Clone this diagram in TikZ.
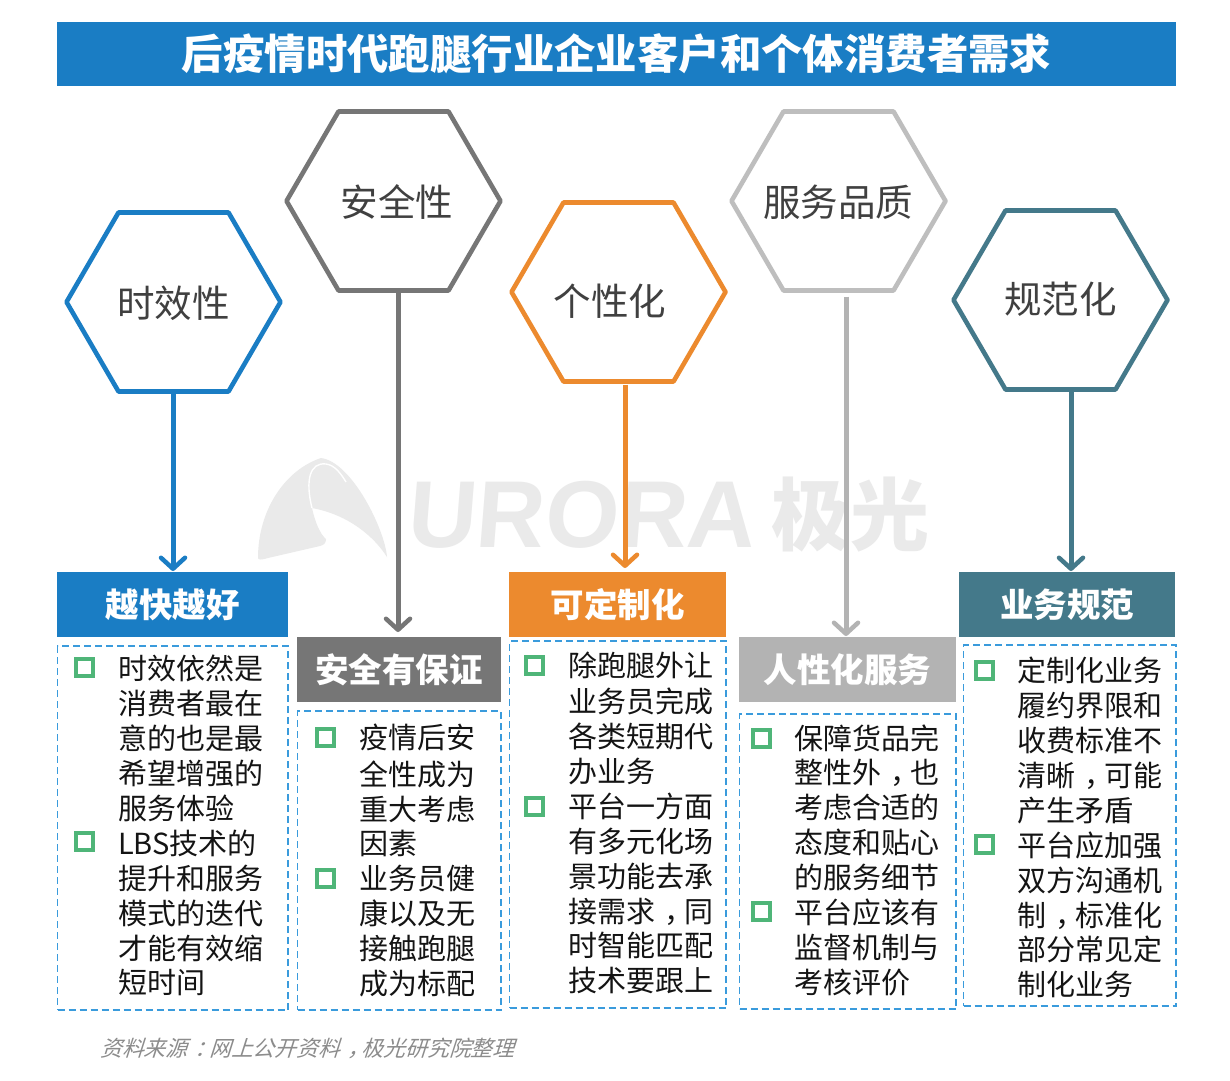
\documentclass[tikz,border=0pt]{standalone}
\usepackage{fontspec}
\setmainfont{Noto Sans CJK SC}
\newfontfamily\cjkit[FakeSlant=0.32]{Noto Sans CJK SC}
\newfontfamily\wmfont[FakeSlant=0.08]{Liberation Sans Bold}
\usetikzlibrary{arrows.meta,calc}
\definecolor{cblue}{HTML}{1A7DC4}
\definecolor{cgray}{HTML}{767676}
\definecolor{corange}{HTML}{EC8A2E}
\definecolor{clight}{HTML}{B3B3B3}
\definecolor{cteal}{HTML}{44798A}
\definecolor{cdash}{HTML}{3A9BDC}
\definecolor{cgreen}{HTML}{4FB578}
\definecolor{cwm}{HTML}{EAEAEA}
\newcommand{\pn}[1]{\makebox[1em][l]{\hspace{.33em}#1}}
\tikzset{
  titlebar/.style={fill=cblue,text=white,inner sep=0pt,minimum width=1119pt,minimum height=64pt,font=\fontsize{41.4}{48}\selectfont\bfseries},
  hexlabel/.style={inner sep=0pt,text=black!75,font=\fontsize{37.5}{44}\selectfont},
  headbox/.style={fill=#1,text=white,inner sep=0pt,font=\fontsize{33.5}{40}\selectfont\bfseries},
  dashbox/.style={draw=cdash,line width=1.8pt,dash pattern=on 7pt off 4pt,inner sep=0pt},
  bullet/.style={draw=cgreen,line width=4pt,inner sep=0pt,minimum size=17pt},
  body/.style={anchor=north west,inner sep=0pt,align=left,text=black!92,font=\fontsize{29}{34.9}\selectfont},
  conn/.style={draw=#1,line width=5pt,-{Straight Barb[length=11pt,width=24pt,line width=4.5pt,round]}},
  sourcenote/.style={anchor=west,inner sep=0pt,text=black!45,font=\fontsize{21.8}{26}\selectfont\cjkit},
  wmtext/.style={anchor=west,inner sep=0pt,text=cwm}
}
% name, hex x, hex y, colour, label x, label y, text
\newcommand{\hexa}[7]{%
  \node[hexlabel] (#1) at (#5,#6) {#7};
  \coordinate (#1c) at (#2,#3);
  \coordinate (#1s) at ([yshift=-89.5pt]#1c);
  \draw[#4,line width=4.6pt,line join=round]
    ([xshift=-107pt]#1c) -- ([xshift=-55pt,yshift=89.5pt]#1c) -- ([xshift=55pt,yshift=89.5pt]#1c)
    -- ([xshift=107pt]#1c) -- ([xshift=55pt,yshift=-89.5pt]#1c) -- ([xshift=-55pt,yshift=-89.5pt]#1c) -- cycle;}
\newcommand{\headb}[6]{% name x1 y1 x2 color text
  \node[headbox=#5,minimum width={#4pt-#2pt},minimum height=65pt] (#1) at ({(#2+#4)/2},{#3+32.5}) {#6};}
\newcommand{\dbox}[5]{%
  \node[dashbox,minimum width={#4pt-#2pt},minimum height={#5pt-#3pt}] (#1) at ({(#2+#4)/2},{(#3+#5)/2}) {};}
\begin{document}
\begin{tikzpicture}[x=1pt,y=-1pt]
\useasboundingbox (0,0) rectangle (1230,1080);
\fill[white] (0,0) rectangle (1230,1080);
% watermark
\fill[cwm] (258,558) .. controls (258,510) and (285,470) .. (321,458)
  .. controls (352,462) and (385,530) .. (387,557)
  .. controls (375,538) and (350,515) .. (312,508)
  .. controls (315,522) and (320,534) .. (326,539)
  .. controls (326,543) and (324,545) .. (320,546)
  -- (268,558) .. controls (262,560) and (258,560) .. (258,558) -- cycle;
\draw[white,line width=1.4pt] (312,508) .. controls (305,480) and (310,462) .. (326,464)
  .. controls (334,465) and (340,472) .. (346,482);
\node[wmtext,font=\fontsize{95}{95}\selectfont\wmfont] (wmlatin) at (406,515) {URORA};
\node[wmtext,font=\fontsize{79}{79}\selectfont\bfseries] (wmcjk) at (771,515) {极光};
% title
\node[titlebar] (title) at (616.5,54) {后疫情时代跑腿行业企业客户和个体消费者需求};
% hexagons
\hexa{hA}{173.5}{302}{cblue}{173.5}{303}{时效性}
\hexa{hB}{393.5}{201}{cgray}{397}{202}{安全性}
\hexa{hC}{618.5}{292}{corange}{610}{301}{个性化}
\hexa{hD}{838.5}{201}{clight!85!white}{838}{202}{服务品质}
\hexa{hE}{1060.5}{300}{cteal}{1060.5}{299}{规范化}
% headers
\headb{bA}{57}{572}{288}{cblue}{越快越好}
\headb{bB}{297}{637}{501}{cgray}{安全有保证}
\headb{bC}{509}{572}{726}{corange}{可定制化}
\headb{bD}{739}{637}{956}{clight}{人性化服务}
\headb{bE}{959}{572}{1175}{cteal}{业务规范}
% arrows
\coordinate (tA) at (173,571);
\coordinate (tB) at (398,632);
\coordinate (tC) at (625,568);
\coordinate (tD) at (846,636);
\coordinate (tE) at (1071,571);
\draw[conn=cblue] (tA |- hAs) -- (tA);
\draw[conn=cgray] (tB |- hBs) -- (tB);
\draw[conn=corange] ([yshift=-3pt]tC |- hCs) -- (tC);
\draw[conn=clight] ([yshift=-6pt]tD |- hDs) -- (tD);
\draw[conn=cteal] (tE |- hEs) -- (tE);
% dashed boxes
\dbox{dA}{57.5}{646}{288}{1010}
\dbox{dB}{297.5}{711}{501}{1010}
\dbox{dC}{509.5}{641}{726}{1008}
\dbox{dD}{739.5}{714}{956}{1009}
\dbox{dE}{963.5}{645}{1176}{1006}
% bullets
\node[bullet] (pA1) at (84.5,667) {};
\node[bullet] (pA2) at (84.5,841) {};
\node[bullet] (pB1) at (325.5,737) {};
\node[bullet] (pB2) at (325.5,878) {};
\node[bullet] (pC1) at (534.5,665) {};
\node[bullet] (pC2) at (534.5,806) {};
\node[bullet] (pD1) at (761.5,738) {};
\node[bullet] (pD2) at (761.5,911) {};
\node[bullet] (pE1) at (984,670) {};
\node[bullet] (pE2) at (984,844) {};
% text blocks
\node[body] (tbA) at (118,655) {\strut 时效依然是\\消费者最在\\意的也是最\\希望增强的\\服务体验\\LBS技术的\\提升和服务\\模式的迭代\\才能有效缩\\短时间};
\node[body] (tbB) at (359,724.2) {\strut 疫情后安\\全性成为\\重大考虑\\因素\\业务员健\\康以及无\\接触跑腿\\成为标配};
\node[body] (tbC) at (568,651.8) {\strut 除跑腿外让\\业务员完成\\各类短期代\\办业务\\平台一方面\\有多元化场\\景功能去承\\接需求\pn{，}同\\时智能匹配\\技术要跟上};
\node[body] (tbD) at (794,724.2) {\strut 保障货品完\\整性外\pn{，}也\\考虑合适的\\态度和贴心\\的服务细节\\平台应该有\\监督机制与\\考核评价};
\node[body] (tbE) at (1017,657) {\strut 定制化业务\\履约界限和\\收费标准不\\清晰\pn{，}可能\\产生矛盾\\平台应加强\\双方沟通机\\制\pn{，}标准化\\部分常见定\\制化业务};
% source
\node[sourcenote] (src) at (100,1048) {资料来源\pn{：}网上公开资料\pn{，}极光研究院整理};
\end{tikzpicture}
\end{document}
